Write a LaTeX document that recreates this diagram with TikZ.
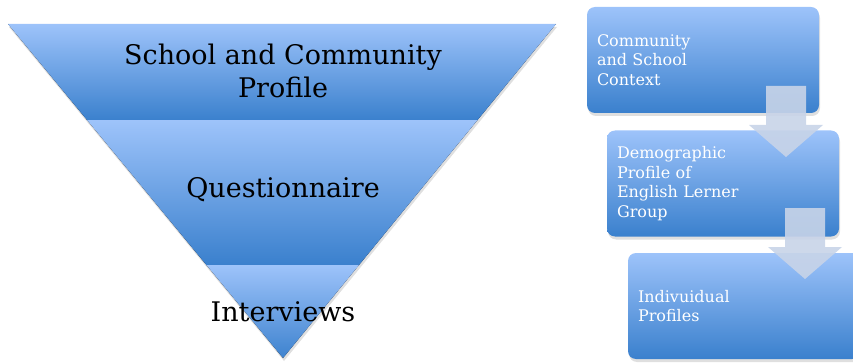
\documentclass[tikz,border=0pt]{standalone}
\usepackage{fontspec}
\setmainfont{DejaVu Serif}
\usetikzlibrary{shadows}

\definecolor{bandtop}{RGB}{157,195,250}
\definecolor{bandbot}{RGB}{58,128,205}
\definecolor{arrowgray}{RGB}{200,212,232}

\tikzset{
  band/.style={top color=bandtop,bottom color=bandbot},
  bigtext/.style={font=\fontsize{27}{33}\selectfont,align=center},
  stepbox/.style={rounded corners=8pt,top color=bandtop,bottom color=bandbot,
    inner sep=10pt,minimum width=232pt,minimum height=106pt,text width=212pt,
    align=left,text=white,font=\fontsize{16}{19.5}\selectfont,
    drop shadow={opacity=0.25,shadow xshift=1pt,shadow yshift=-3pt}},
  blockarrow/.style={fill=arrowgray,fill opacity=0.9},
}

% tip of a down arrow at (#1,#2)
\newcommand{\blockarrowat}[2]{%
  \fill[blockarrow] (#1-20,#2+71) -- (#1+20,#2+71) -- (#1+20,#2+32) -- (#1+37,#2+32)
    -- (#1,#2) -- (#1-37,#2+32) -- (#1-20,#2+32) -- cycle;}

\begin{document}
\begin{tikzpicture}[x=1pt,y=1pt]
\useasboundingbox (0,0) rectangle (853,362);

% funnel
\path[fill=white,drop shadow={opacity=0.25,shadow xshift=1pt,shadow yshift=-3pt}]
  (8,338) -- (556,338) -- (283,4) -- cycle;
\begin{scope}
\clip (8,338) -- (556,338) -- (283,4) -- cycle;
\fill[band] (0,241) rectangle (560,338);
\fill[band] (0,97) rectangle (560,241);
\fill[band] (0,0) rectangle (560,97);
\end{scope}

\node[bigtext] (profile) at (283,291) {School and Community\\Profile};
\node[bigtext] (questionnaire) at (283,172) {Questionnaire};
\node[bigtext] (interviews) at (283,50) {Interviews};

% steps
\node[stepbox] (context) at (703,302) {Community\\and School\\Context};
\node[stepbox] (demographic) at (723,178.5) {Demographic\\Profile of\\English Lerner\\Group};
\node[stepbox] (individual) at (744,56) {Indivuidual\\Profiles};

\blockarrowat{786}{205}
\blockarrowat{805}{83}

\end{tikzpicture}
\end{document}
